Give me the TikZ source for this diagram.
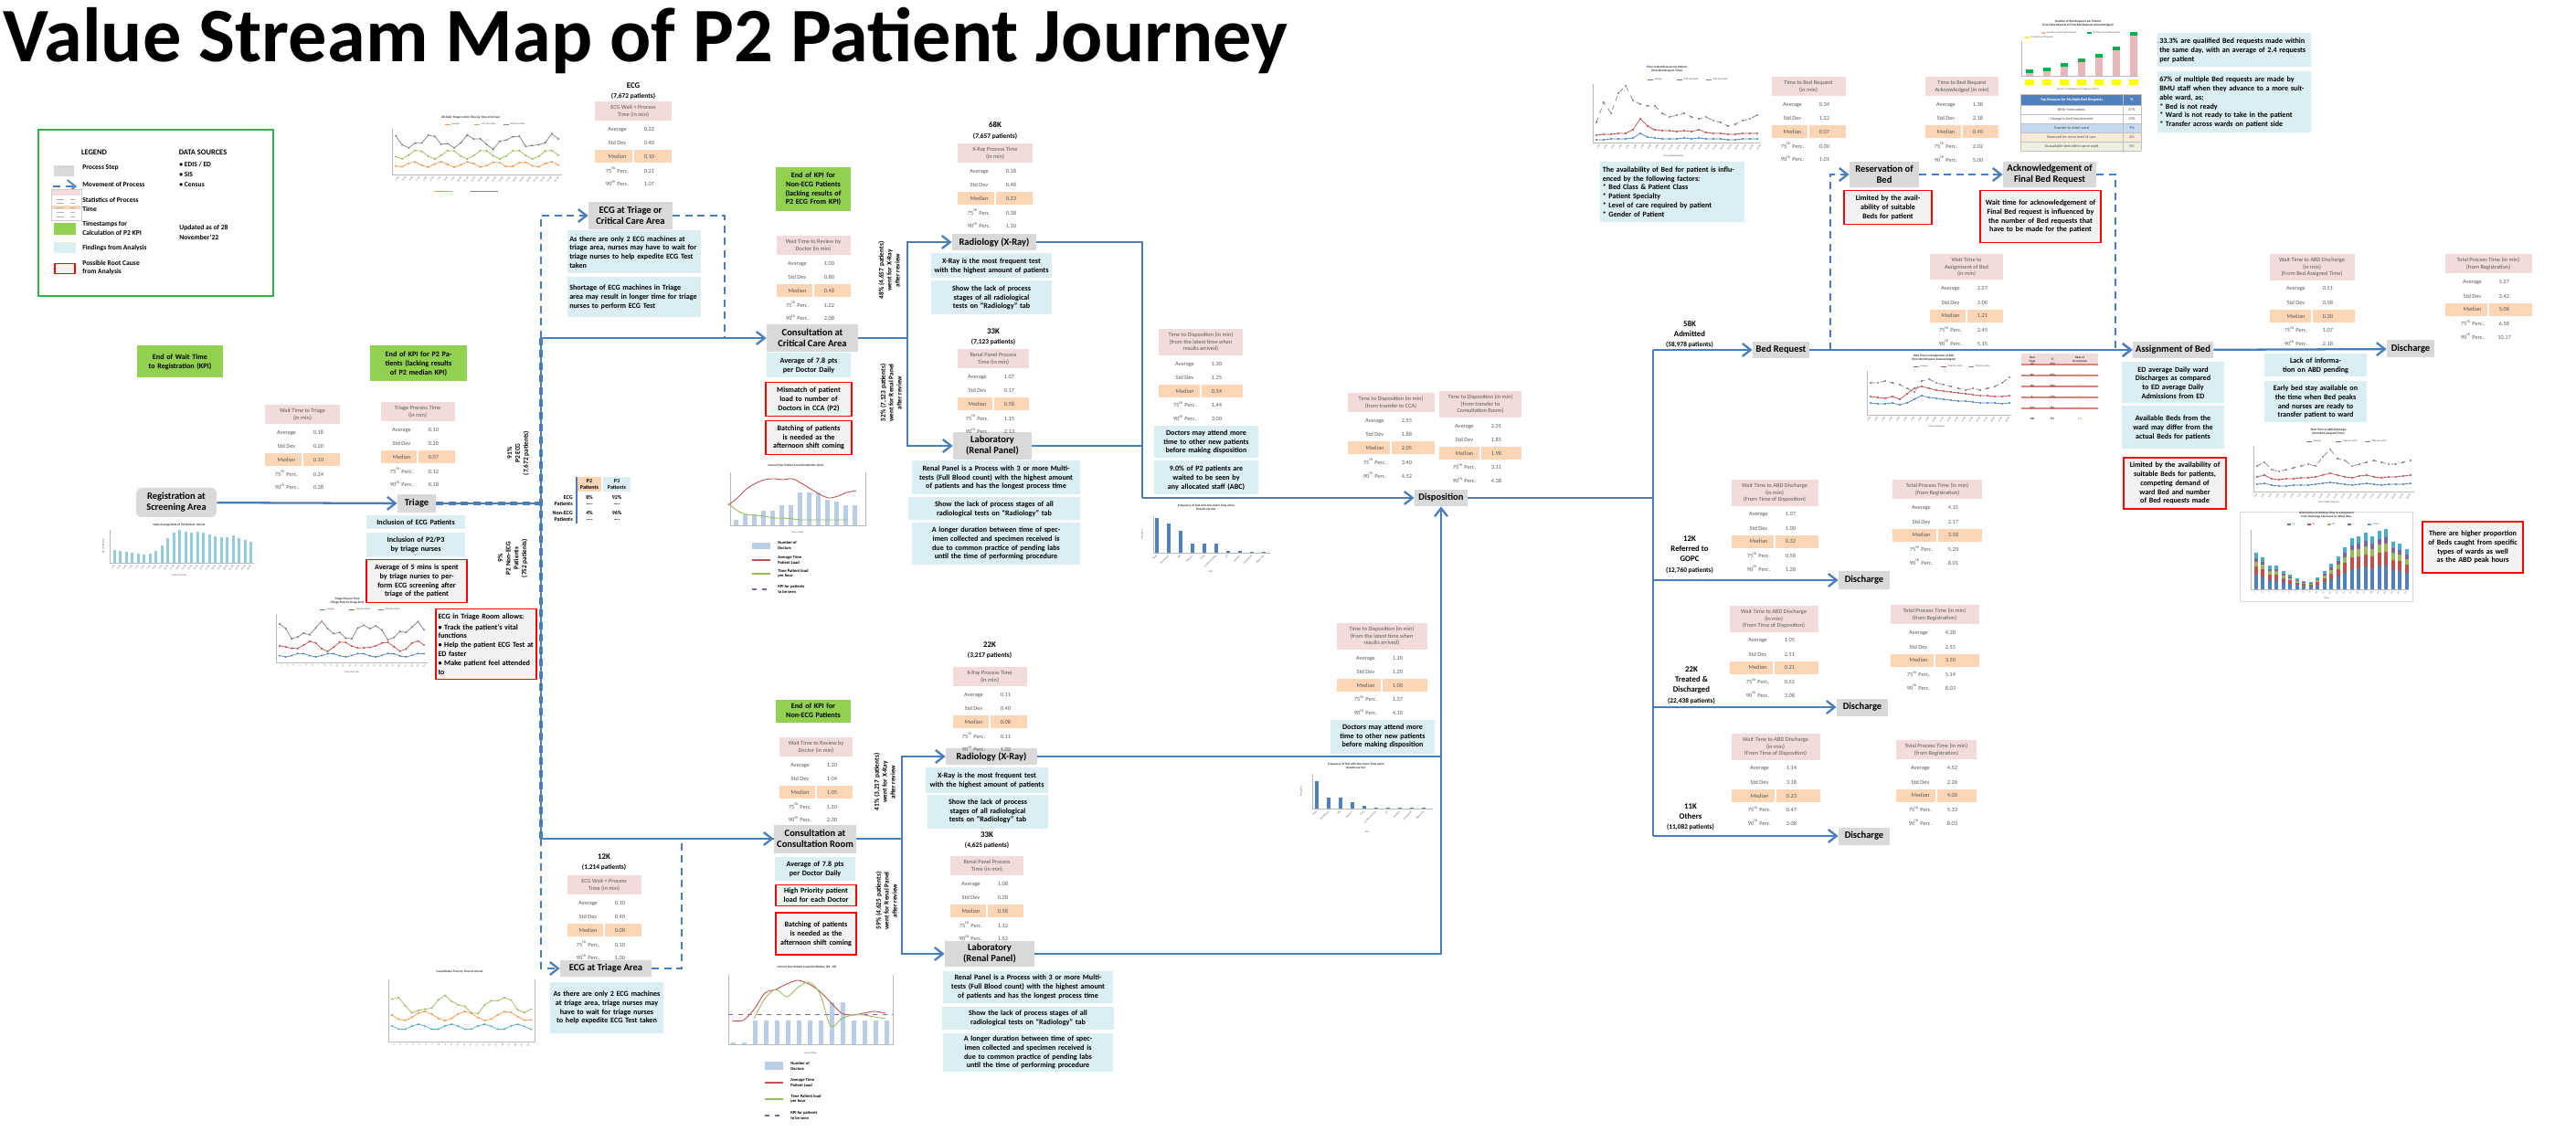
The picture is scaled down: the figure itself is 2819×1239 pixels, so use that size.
\documentclass[tikz,border=0pt]{standalone}
\usepackage{fontspec}
\setmainfont{Carlito}
\usetikzlibrary{positioning,arrows.meta}

\definecolor{flowblue}{HTML}{4A7EBB}
\definecolor{procgrey}{HTML}{D9D9D9}
\definecolor{findblue}{HTML}{DBEEF4}
\definecolor{kpigreen}{HTML}{92D050}
\definecolor{medorange}{HTML}{FCD5B4}
\definecolor{headpink}{HTML}{F2DCDB}
\definecolor{causegrey}{HTML}{F2F2F2}
\definecolor{legendgreen}{HTML}{2DB34A}
\definecolor{tabtext}{HTML}{595959}
\definecolor{barblue}{HTML}{4F81BD}
\definecolor{skyblue}{HTML}{93CDDD}
\definecolor{paleblue}{HTML}{B9CDE5}
\definecolor{chartred}{HTML}{C0504D}
\definecolor{chartgreen}{HTML}{9BBB59}
\definecolor{chartpurple}{HTML}{8064A2}
\definecolor{chartaqua}{HTML}{4BACC6}
\definecolor{chartorange}{HTML}{F79646}
\definecolor{barpink}{HTML}{E6B9B8}
\definecolor{tagyellow}{HTML}{FFFF00}
\definecolor{capgreen}{HTML}{00B050}
\definecolor{rowblue}{HTML}{C5D9F1}
\definecolor{rowpeach}{HTML}{FDE9D9}
\definecolor{rowgreen}{HTML}{EBF1DE}

\newcommand{\fsz}[2]{\fontsize{#1}{#2}\selectfont}
\newcommand{\rowtxt}[2]{\makebox[7mm]{#1}\makebox[7mm]{#2}}
% statistics table: name, top centre, width, title, average, std dev, median, 75th, 90th
\newcommand{\stattab}[9]{%
  \node[tabhead, minimum width=#3, anchor=north] (#1) at #2 {#4};
  \node[tabrow, minimum width=#3, below=1.2pt of #1] (#1-a) {\rowtxt{Average}{#5}};
  \node[tabrow, minimum width=#3, below=0pt of #1-a] (#1-b) {\rowtxt{Std Dev}{#6}};
  \node[tabrow, minimum width=#3, fill=medorange, below=0pt of #1-b] (#1-c) {\rowtxt{Median}{#7}};
  \node[tabrow, minimum width=#3, below=0pt of #1-c] (#1-d) {\rowtxt{75\textsuperscript{th} Perc.}{#8}};
  \node[tabrow, minimum width=#3, below=0pt of #1-d] (#1-e) {\rowtxt{90\textsuperscript{th} Perc.}{#9}};
  \draw[white, line width=0.8pt] (#1-c.north) -- (#1-c.south);
}

\begin{document}
\begin{tikzpicture}[x=0.2mm, y=-0.2mm,
  proc/.style={fill=procgrey, font=\bfseries\fsz{6}{6.8}, align=center, inner sep=1pt},
  find/.style={fill=findblue, font=\bfseries\fsz{4.6}{5.6}, align=center, inner sep=1.5pt},
  cause/.style={draw=red, line width=1.1pt, fill=causegrey, font=\bfseries\fsz{4.6}{5.6}, align=center, inner sep=1.5pt},
  kpi/.style={fill=kpigreen, font=\bfseries\fsz{4.6}{5.6}, align=center, inner sep=1.5pt},
  tabhead/.style={fill=headpink, text=tabtext, font=\fsz{3.6}{4.3}, align=center, inner xsep=1pt, inner ysep=2.2pt},
  tabrow/.style={text=tabtext, font=\fsz{3.6}{4.3}, inner sep=0pt, minimum height=2.8mm},
  grp/.style={font=\bfseries\fsz{5}{6.4}, align=center, inner sep=0pt},
  rot/.style={rotate=90, font=\bfseries\fsz{4.2}{5}, align=center, inner sep=0pt},
  flow/.style={draw=flowblue, line width=1.3pt},
  dflow/.style={flow, dash pattern=on 1.6mm off 1.1mm},
  arr/.style={-{Straight Barb[length=1.8mm, width=2.8mm]}},
  legtxt/.style={font=\bfseries\fsz{4.3}{5.4}, align=left, anchor=west, inner sep=0pt},
  axisln/.style={draw=gray!55, line width=0.3pt},
  ctitle/.style={font=\bfseries\fsz{1.9}{2.3}, align=center, inner sep=0pt, text=black!80},
  ticklbl/.style={font=\fsz{1.5}{1.8}, inner sep=0pt, text=black!70},
  clegend/.style={font=\bfseries\fsz{2.6}{3.1}, align=left, anchor=west, inner sep=0pt},
  minicell/.style={font=\bfseries\fsz{3.4}{4}, align=center, inner sep=0pt}]
\useasboundingbox (0,0) rectangle (2819,1239);

% title
\node[anchor=base west, font=\bfseries\fsz{48}{52}, inner sep=0pt] (title) at (3,68) {Value Stream Map of P2 Patient Journey};

% legend
\draw[legendgreen, line width=0.5mm] (42,142) rectangle (299,324);
\node[grp, font=\bfseries\fsz{4.8}{5.6}] (legHead) at (103,167) {LEGEND};
\node[proc, minimum width=4.4mm, minimum height=2.4mm] (legProc) at (70,187) {};
\node[legtxt] (legProcT) at (90,184) {Process Step};
\coordinate (legA) at (58,204);
\coordinate (legB) at (84,204);
\draw[dflow, arr, line width=1pt] (legA) -- (legB);
\node[legtxt] (legMoveT) at (90,202) {Movement of Process};
\draw[gray!40, fill=white] (56,207) rectangle (89,241);
\fill[headpink] (57,208) rectangle (88,214);
\fill[medorange] (57,225) rectangle (88,229);
\foreach \yy in {218,222,227,232,237} \draw[gray!60, line width=0.2pt] (62,\yy) -- (70,\yy) (77,\yy) -- (82,\yy);
\node[legtxt] (legStatT) at (90,224) {Statistics of Process\\Time};
\node[kpi, minimum width=4.8mm, minimum height=2.6mm] (legKpi) at (71,251) {};
\node[legtxt] (legKpiT) at (90,250) {Timestamps for\\Calculation of P2 KPI};
\node[find, minimum width=4.8mm, minimum height=2.4mm] (legFind) at (71,271) {};
\node[legtxt] (legFindT) at (90,271) {Findings from Analysis};
\node[cause, line width=0.7pt, minimum width=4.4mm, minimum height=2.2mm] (legCause) at (71,294) {};
\node[legtxt] (legCauseT) at (90,293) {Possible Root Cause\\from Analysis};
\node[grp, font=\bfseries\fsz{4.8}{5.6}] (legSrc) at (222,167) {DATA SOURCES};
\node[legtxt, font=\bfseries\fsz{4.3}{6.2}] (legSrcT) at (196,191) {• EDIS / ED\\• SIS\\• Census};
\node[legtxt, font=\bfseries\fsz{4.3}{6.2}] (legUpd) at (196,254) {Updated as of 28\\November'22};

% KPI timestamps
\node[kpi, text width=17.9mm, minimum height=7mm] (kReg) at (197,396) {End of Wait Time to Registration (KPI)};
\node[kpi, text width=20.3mm, minimum height=7.8mm] (kTri) at (458,398) {End of KPI for P2 Patients (lacking results of P2 median KPI)};
\node[kpi, text width=15.3mm, minimum height=9.6mm] (kCca) at (890,207) {End of KPI for Non-ECG Patients (lacking results of P2 ECG From KPI)};
\node[kpi, text width=15.5mm, minimum height=5mm] (kCr) at (890,778) {End of KPI for Non-ECG Patients};

% process steps
\node[proc, rounded corners=1.2mm, minimum width=17.6mm, minimum height=6.4mm] (reg) at (193,550) {Registration at\\Screening Area};
\node[proc, minimum width=8.4mm, minimum height=4mm] (tri) at (456,551) {Triage};
\node[proc, minimum width=18.4mm, minimum height=6mm] (ecgA) at (690,236) {ECG at Triage or\\Critical Care Area};
\node[proc, minimum width=20mm, minimum height=6mm] (ccA) at (889,370) {Consultation at\\Critical Care Area};
\node[proc, minimum width=18.4mm, minimum height=3.6mm] (radA) at (1088,265) {Radiology (X-Ray)};
\node[proc, minimum width=17.2mm, minimum height=6mm] (labA) at (1086,488) {Laboratory\\(Renal Panel)};
\node[proc, minimum width=18mm, minimum height=6.2mm] (crB) at (892,918) {Consultation at\\Consultation Room};
\node[proc, minimum width=20mm, minimum height=3.6mm] (ecgB) at (663,1060) {ECG at Triage Area};
\node[proc, minimum width=20mm, minimum height=3.6mm] (radB) at (1085,828) {Radiology (X-Ray)};
\node[proc, minimum width=19.6mm, minimum height=5.6mm] (labB) at (1083,1044) {Laboratory\\(Renal Panel)};
\node[proc, minimum width=11.6mm, minimum height=3.6mm] (disp) at (1577,545) {Disposition};
\node[proc, minimum width=12.4mm, minimum height=3.6mm] (bedreq) at (1949,383) {Bed Request};
\node[proc, minimum width=15.2mm, minimum height=5.6mm] (resv) at (2062,191) {Reservation of\\Bed};
\node[proc, minimum width=20.4mm, minimum height=5.6mm] (ack) at (2243,191) {Acknowledgement of\\Final Bed Request};
\node[proc, minimum width=17.6mm, minimum height=3.6mm] (asgn) at (2378,383) {Assignment of Bed};
\node[proc, minimum width=10.4mm, minimum height=3.8mm] (dis1) at (2638,382) {Discharge};
\node[proc, minimum width=11.2mm, minimum height=3.8mm] (dis2) at (2040,635) {Discharge};
\node[proc, minimum width=11.2mm, minimum height=3.8mm] (dis3) at (2038,774) {Discharge};
\node[proc, minimum width=11.2mm, minimum height=3.8mm] (dis4) at (2040,915) {Discharge};

% connectors, left part
\coordinate (vTop) at (592,236);
\coordinate (vUp) at (592,370);
\coordinate (vTri) at (592,551);
\coordinate (vLow) at (592,918);
\coordinate (vBot) at (592,1060);
\draw[flow, arr] (reg) -- (tri);
\draw[flow] (tri) -- (vTri);
\draw[dflow, line width=2.2pt] (tri) -- (vTri);
\draw[flow] (vUp) -- (vLow);
\draw[dflow, line width=2.2pt] (vUp) -- (vLow);
\draw[flow, arr] (vUp) -- (ccA);
\draw[flow, arr] (vLow) -- (crB);
\draw[dflow, arr] (vUp) -- (vTop) -- (ecgA);
\coordinate (ecgAr) at (793,236);
\coordinate (ecgAd) at (793,370);
\draw[dflow] (ecgA) -- (ecgAr) -- (ecgAd);
\draw[dflow, arr] (vLow) -- (vBot) -- (ecgB);
\coordinate (ecgBr) at (746,1060);
\coordinate (ecgBu) at (746,918);
\draw[dflow] (ecgB) -- (ecgBr) -- (ecgBu) -- (crB);

% connectors, investigations
\coordinate (sA) at (993,370);
\coordinate (sAt) at (993,265);
\coordinate (sAb) at (993,488);
\draw[flow] (ccA) -- (sA);
\draw[flow, arr] (sA) -- (sAt) -- (radA);
\draw[flow, arr] (sA) -- (sAb) -- (labA);
\coordinate (jA) at (1250,265);
\coordinate (jAl) at (1250,488);
\coordinate (jAb) at (1250,545);
\draw[flow] (radA) -- (jA) -- (jAb);
\draw[flow] (labA) -- (jAl);
\draw[flow, arr] (jAb) -- (disp);
\coordinate (sB) at (987,918);
\coordinate (sBt) at (987,828);
\coordinate (sBb) at (987,1044);
\draw[flow] (crB) -- (sB);
\draw[flow, arr] (sB) -- (sBt) -- (radB);
\draw[flow, arr] (sB) -- (sBb) -- (labB);
\coordinate (jB) at (1577,828);
\coordinate (jBb) at (1577,1044);
\draw[flow] (radB) -- (jB);
\draw[flow, arr] (labB) -- (jBb) -- (disp);

% connectors, disposition onwards
\coordinate (rD) at (1809,545);
\coordinate (rT) at (1809,383);
\coordinate (r2) at (1809,635);
\coordinate (r3) at (1809,774);
\coordinate (r4) at (1809,915);
\draw[flow] (disp) -- (rD);
\draw[flow] (rT) -- (r4);
\draw[flow, arr] (rT) -- (bedreq);
\draw[flow, arr] (r2) -- (dis2);
\draw[flow, arr] (r3) -- (dis3);
\draw[flow, arr] (r4) -- (dis4);
\draw[flow, arr] (bedreq) -- (asgn);
\draw[flow, arr] (asgn) -- (dis1);
\coordinate (bU) at (2003,383);
\coordinate (bT) at (2003,191);
\coordinate (aR) at (2315,191);
\coordinate (aD) at (2315,383);
\draw[dflow, arr] (bU) -- (bT) -- (resv);
\draw[dflow, arr] (resv) -- (ack);
\draw[dflow, arr] (ack) -- (aR) -- (aD) -- (asgn);

% branch labels
\node[rot] (lblEcg) at (567,496) {91\%\\P2 ECG\\(7,672 patients)};
\node[rot] (lblNon) at (561,611) {9\%\\P2 Non-ECG\\Patients\\(752 patients)};
\node[rot] (lblRadA) at (973,296) {48\% (4,657 patients)\\went for X-Ray\\after review};
\node[rot] (lblLabA) at (975,430) {52\% (7,123 patients)\\went for Renal Panel\\after review};
\node[rot] (lblRadB) at (968,856) {41\% (3,217 patients)\\went for X-Ray\\after review};
\node[rot] (lblLabB) at (970,986) {59\% (4,625 patients)\\went for Renal Panel\\after review};
\node[grp] (lblAdm) at (1849,366) {58K\\Admitted\\\fsz{4.2}{6}(58,978 patients)};
\node[grp] (lblGopc) at (1849,607) {12K\\Referred to\\GOPC\\\fsz{4.2}{6}(12,760 patients)};
\node[grp] (lblTd) at (1851,750) {22K\\Treated \&\\Discharged\\\fsz{4.2}{6}(22,438 patients)};
\node[grp] (lblOth) at (1850,894) {11K\\Others\\\fsz{4.2}{6}(11,082 patients)};
\node[grp] (grpEcgA) at (693,100) {ECG\\\fsz{4.2}{6}(7,672 patients)};
\node[grp] (grpRadA) at (1089,143) {68K\\\fsz{4.2}{6}(7,657 patients)};
\node[grp] (grpLabA) at (1087,369) {33K\\\fsz{4.2}{6}(7,123 patients)};
\node[grp] (grpEcgB) at (661,944) {12K\\\fsz{4.2}{6}(1,214 patients)};
\node[grp] (grpRadB) at (1083,712) {22K\\\fsz{4.2}{6}(3,217 patients)};
\node[grp] (grpLabB) at (1080,920) {33K\\\fsz{4.2}{6}(4,625 patients)};

% ECG share table
\node[minicell, fill=medorange, minimum width=5.2mm, minimum height=3.2mm] (hP2) at (645,530) {P2\\Patients};
\node[minicell, fill=findblue, minimum width=6mm, minimum height=3.2mm] (hP3) at (675,530) {P3\\Patients};
\node[minicell, align=right, anchor=east] (rEcgP) at (627,548) {ECG\\Patients};
\node[minicell, align=right, anchor=east] (rNonP) at (627,565) {Non-ECG\\Patients};
\node[minicell] (v11) at (645,544) {8\%};
\node[minicell] (v12) at (675,544) {92\%};
\node[minicell] (v21) at (645,561) {4\%};
\node[minicell] (v22) at (675,561) {96\%};
\node[minicell] (d11) at (645,552) {----};
\node[minicell] (d12) at (675,552) {----};
\node[minicell] (d21) at (645,569) {----};
\node[minicell] (d22) at (675,569) {----};
\draw[flowblue, line width=0.6pt] (631,522) -- (631,573);

% statistics tables
\stattab{tWaitTri}{(331,443)}{16.4mm}{Wait Time to Triage\\(in min)}{0.18}{0.20}{0.10}{0.24}{0.38}
\stattab{tTriProc}{(457,440)}{16.2mm}{Triage Process Time\\(in min)}{0.10}{0.20}{0.07}{0.12}{0.18}
\stattab{tEcgA}{(693,111)}{16.8mm}{ECG Wait + Process\\Time (in min)}{0.22}{0.40}{0.10}{0.21}{1.07}
\stattab{tRevA}{(890,258)}{16.2mm}{Wait Time to Review by\\Doctor (in min)}{1.00}{0.80}{0.48}{1.22}{2.08}
\stattab{tRadA}{(1089,157)}{16.4mm}{X-Ray Process Time\\(in min)}{0.18}{0.48}{0.23}{0.38}{1.10}
\stattab{tLabA}{(1087,382)}{15.6mm}{Renal Panel Process\\Time (in min)}{1.07}{0.17}{0.58}{1.15}{2.13}
\stattab{tDispA}{(1314,360)}{18.4mm}{Time to Disposition (in min)\\(from the latest time when\\results arrived)}{1.30}{1.25}{0.54}{1.44}{3.00}
\stattab{tDispB1}{(1522,430)}{19mm}{Time to Disposition (in min)\\(from transfer to CCA)}{2.55}{1.88}{2.05}{3.40}{4.52}
\stattab{tDispB2}{(1620,428)}{18mm}{Time to Disposition (in min)\\(from transfer to\\Consultation Room)}{2.31}{1.85}{1.98}{3.11}{4.38}
\stattab{tRevB}{(893,807)}{16mm}{Wait Time to Review by\\Doctor (in min)}{1.20}{1.04}{1.05}{1.50}{2.30}
\stattab{tEcgB}{(661,958)}{16.2mm}{ECG Wait + Process\\Time (in min)}{0.10}{0.40}{0.08}{0.10}{1.00}
\stattab{tRadB}{(1083,730)}{16.2mm}{X-Ray Process Time\\(in min)}{0.11}{0.40}{0.08}{0.11}{1.02}
\stattab{tLabB}{(1080,937)}{16mm}{Renal Panel Process\\Time (in min)}{1.08}{0.28}{0.58}{1.12}{1.52}
\stattab{tDispC}{(1512,682)}{19.8mm}{Time to Disposition (in min)\\(from the latest time when\\results arrived)}{1.20}{1.20}{1.00}{1.37}{4.10}
\stattab{tBedReq}{(1979,84)}{16.2mm}{Time to Bed Request\\(in min)}{0.34}{1.22}{0.07}{0.00}{1.01}
\stattab{tBedAck}{(2147,84)}{16mm}{Time to Bed Request\\Acknowledged (in min)}{1.38}{2.18}{0.40}{2.02}{5.00}
\stattab{tAsgn}{(2152,278)}{16mm}{Wait Time to\\Assignment of Bed\\(in min)}{2.27}{3.00}{1.21}{2.45}{5.15}
\stattab{tAbd1}{(2530,278)}{18.6mm}{Wait Time to ABD Discharge\\(in min)\\(From Bed Assigned Time)}{0.51}{0.58}{0.30}{1.07}{2.18}
\stattab{tTot1}{(2723,278)}{19mm}{Total Process Time (in min)\\(from Registration)}{5.27}{2.42}{5.08}{6.58}{10.17}
\stattab{tAbd2}{(1942,525)}{19mm}{Wait Time to ABD Discharge\\(in min)\\(From Time of Disposition)}{1.07}{1.00}{0.32}{0.58}{1.28}
\stattab{tTot2}{(2120,525)}{19.6mm}{Total Process Time (in min)\\(from Registration)}{4.15}{2.17}{3.58}{5.20}{8.01}
\stattab{tAbd3}{(1941,663)}{19.4mm}{Wait Time to ABD Discharge\\(in min)\\(From Time of Disposition)}{1.05}{2.51}{0.21}{0.52}{3.08}
\stattab{tTot3}{(2117,662)}{19.4mm}{Total Process Time (in min)\\(from Registration)}{4.28}{2.55}{3.50}{5.14}{8.03}
\stattab{tAbd4}{(1943,803)}{19.4mm}{Wait Time to ABD Discharge\\(in min)\\(From Time of Disposition)}{1.14}{3.18}{0.23}{0.47}{3.08}
\stattab{tTot4}{(2119,810)}{17.6mm}{Total Process Time (in min)\\(from Registration)}{4.52}{2.26}{4.00}{5.33}{8.03}

% findings and root causes, triage
\node[find, text width=20.7mm, minimum height=3mm] (fEcgPt) at (455,572) {Inclusion of ECG Patients};
\node[find, text width=20.7mm, minimum height=5mm] (fP2P3) at (455,596) {Inclusion of P2/P3 by triage nurses};
\node[cause, text width=20.9mm, minimum height=9.4mm] (cEcgTri) at (456,636) {Average of 5 mins is spent by triage nurses to perform ECG screening after triage of the patient};
\node[cause, text width=21mm, minimum height=15.4mm, align=left] (cEcgRoom) at (532,705) {ECG in Triage Room allows:\\[1pt]
 \textbullet\ Track the patient's vital functions\\
 \textbullet\ Help the patient ECG Test at ED faster\\
 \textbullet\ Make patient feel attended to};
\node[find, text width=28.3mm, minimum height=9.4mm, align=left] (fEcgA1) at (694,276) {As there are only 2 ECG machines at triage area, nurses may have to wait for triage nurses to help expedite ECG Test taken};
\node[find, text width=28.3mm, minimum height=8.8mm, align=left] (fEcgA2) at (694,325) {Shortage of ECG machines in Triage area may result in longer time for triage nurses to perform ECG Test};

% findings and root causes, consultation
\node[find, text width=17.3mm, minimum height=5.4mm] (fCca) at (885,400) {Average of 7.8 pts per Doctor Daily};
\node[cause, text width=17.7mm, minimum height=7.4mm] (cCca1) at (885,437) {Mismatch of patient load to number of Doctors in CCA (P2)};
\node[cause, text width=17.7mm, minimum height=7.4mm] (cCca2) at (885,479) {Batching of patients is needed as the afternoon shift coming};
\node[find, text width=16.5mm, minimum height=5.2mm] (fCr) at (892,951) {Average of 7.8 pts per Doctor Daily};
\node[cause, text width=16.5mm, minimum height=4.6mm] (cCr1) at (893,980) {High Priority patient load for each Doctor};
\node[cause, text width=16.5mm, minimum height=9.2mm] (cCr2) at (893,1022) {Batching of patients is needed as the afternoon shift coming};
\node[find, text width=23.7mm, minimum height=11.2mm] (fEcgB) at (664,1103) {As there are only 2 ECG machines at triage area, triage nurses may have to wait for triage nurses to help expedite ECG Test taken};

% findings, investigations
\node[find, text width=25.5mm, minimum height=5.4mm] (fRadA1) at (1085,291) {X-Ray is the most frequent test with the highest amount of patients};
\node[find, text width=25.5mm, minimum height=7.4mm] (fRadA2) at (1085,326) {Show the lack of process stages of all radiological tests on “Radiology” tab};
\node[find, text width=35.7mm, minimum height=7.4mm] (fLabA1) at (1090,523) {Renal Panel is a Process with 3 or more Multi-tests (Full Blood count) with the highest amount of patients and has the longest process time};
\node[find, text width=36.5mm, minimum height=5mm] (fLabA2) at (1088,557) {Show the lack of process stages of all radiological tests on “Radiology” tab};
\node[find, text width=35.7mm, minimum height=9mm] (fLabA3) at (1090,595) {A longer duration between time of specimen collected and specimen received is due to common practice of pending labs until the time of performing procedure};
\node[find, text width=21.7mm, minimum height=7mm] (fDispA1) at (1320,484) {Doctors may attend more time to other new patients before making disposition};
\node[find, text width=21.7mm, minimum height=7.4mm] (fDispA2) at (1320,523) {9.0\% of P2 patients are waited to be seen by any allocated staff (ABC)};
\node[find, text width=25.7mm, minimum height=5.6mm] (fRadB1) at (1080,854) {X-Ray is the most frequent test with the highest amount of patients};
\node[find, text width=25.3mm, minimum height=7.4mm] (fRadB2) at (1081,888) {Show the lack of process stages of all radiological tests on “Radiology” tab};
\node[find, text width=36.3mm, minimum height=7mm] (fLabB1) at (1125,1080) {Renal Panel is a Process with 3 or more Multi-tests (Full Blood count) with the highest amount of patients and has the longest process time};
\node[find, text width=36.7mm, minimum height=5mm] (fLabB2) at (1125,1114) {Show the lack of process stages of all radiological tests on “Radiology” tab};
\node[find, text width=36.3mm, minimum height=8mm] (fLabB3) at (1125,1152) {A longer duration between time of specimen collected and specimen received is due to common practice of pending labs until the time of performing procedure};
\node[find, text width=21.7mm, minimum height=7.4mm] (fDispB) at (1513,806) {Doctors may attend more time to other new patients before making disposition};

% findings and root causes, bed management
\node[find, text width=30.5mm, minimum height=13.2mm, align=left] (fBed) at (1830,210) {The availability of Bed for patient is influenced by the following factors:\\
 {*} Bed Class \& Patient Class\\ {*} Patient Specialty\\ {*} Level of care required by patient\\ {*} Gender of Patient};
\node[cause, text width=18mm, minimum height=7.4mm] (cResv) at (2066,227) {Limited by the availability of suitable Beds for patient};
\node[cause, text width=25.2mm, minimum height=11.4mm] (cAck) at (2233,237) {Wait time for acknowledgement of Final Bed request is influenced by the number of Bed requests that have to be made for the patient};
\node[find, text width=32.7mm, minimum height=7.4mm, align=left] (fMulti1) at (2445,55) {33.3\% are qualified Bed requests made within the same day, with an average of 2.4 requests per patient};
\node[find, text width=32.7mm, minimum height=13.4mm, align=left] (fMulti2) at (2445,112) {67\% of multiple Bed requests are made by BMU staff when they advance to a more suitable ward, as:\\
 {*} Bed is not ready\\ {*} Ward is not ready to take in the patient\\ {*} Transfer across wards on patient side};
\node[find, text width=21.5mm, minimum height=9mm] (fAsgn1) at (2378,419) {ED average Daily ward Discharges as compared to ED average Daily Admissions from ED};
\node[find, text width=21.5mm, minimum height=9.4mm] (fAsgn2) at (2378,468) {Available Beds from the ward may differ from the actual Beds for patients};
\node[cause, text width=21.3mm, minimum height=11.2mm] (cAsgn) at (2380,529) {Limited by the availability of suitable Beds for patients, competing demand of ward Bed and number of Bed requests made};
\node[find, text width=21.3mm, minimum height=5mm] (fDis1) at (2534,400) {Lack of information on ABD pending};
\node[find, text width=21.3mm, minimum height=9mm] (fDis2) at (2534,440) {Early bed stay available on the time when Bed peaks and nurses are ready to transfer patient to ward};
\node[cause, text width=21.1mm, minimum height=11.2mm] (cBeds) at (2706,599) {There are higher proportion of Beds caught from specific types of wards as well as the ABD peak hours};

% chart: arrivals
\begin{scope}[shift={(108,572)}]
  \node[ctitle] (c1t) at (88,3) {Daily Average Rate of P2 Patients' Arrival};
  \draw[axisln] (12,8) -- (12,44) -- (170,44);
  \foreach \h [count=\i] in {14,13,12,11,10,9,10,13,19,27,33,36,34,33,34,33,31,29,28,28,30,27,25,23}
    \fill[skyblue] (9+\i*6.5,44) rectangle ++(3.2,-\h);
  \foreach \i in {1,...,24} \node[ticklbl, rotate=45, anchor=east] at (11+\i*6.5,47) {\i:00};
  \node[ticklbl, rotate=90] at (5,26) {No. of Patients};
  \node[ticklbl] at (88,58) {Time of Arrival};
\end{scope}

% chart: triage process time
\begin{scope}[shift={(288,653)}]
  \node[ctitle] (c2t) at (92,5) {Triage Process Time\\(Triage Start to Triage End)};
  \foreach \c/\lbl [count=\k] in {barblue/Average, chartred/75th Percentile, gray/90th Percentile} {
    \draw[\c, line width=0.4pt] (30+\k*32,14) -- ++(6,0);
    \node[ticklbl, anchor=west] at (37+\k*32,14) {\lbl};
  }
  \draw[axisln] (14,20) -- (14,72) -- (180,72);
  \draw[gray, line width=0.4pt, mark=*, mark size=0.35pt] plot[domain=18:176, samples=25] (\x, {38-7*sin(7*\x)-4*cos(17*\x)});
  \draw[chartred, line width=0.4pt, mark=*, mark size=0.35pt] plot[domain=18:176, samples=25] (\x, {54-4*sin(9*\x)-2*cos(13*\x)});
  \draw[barblue, line width=0.4pt, mark=*, mark size=0.35pt] plot[domain=18:176, samples=25] (\x, {64-2*sin(11*\x)});
  \foreach \i in {1,...,24} \node[ticklbl, rotate=45, anchor=east] at (14+\i*6.8,75) {\i};
  \node[ticklbl] at (97,83) {Time of Arrival};
\end{scope}

% chart: triage to ECG
\begin{scope}[shift={(415,125)}]
  \node[ctitle] (c3t) at (100,4) {ED Daily Triage to ECG Time by Time of Arrival};
  \foreach \c/\lbl [count=\k] in {chartorange/Average, chartgreen/75th Percentile, gray/90th Percentile} {
    \draw[\c, line width=0.4pt] (40+\k*32,11) -- ++(6,0);
    \node[ticklbl, anchor=west] at (47+\k*32,11) {\lbl};
  }
  \draw[axisln] (14,16) -- (14,66) -- (200,66);
  \draw[gray, line width=0.4pt, mark=*, mark size=0.35pt] plot[domain=18:196, samples=26] (\x, {30-6*sin(8*\x)-3*cos(19*\x)});
  \draw[chartgreen, line width=0.4pt, mark=*, mark size=0.35pt] plot[domain=18:196, samples=26] (\x, {44-5*sin(10*\x+30)});
  \draw[chartorange, line width=0.4pt, mark=*, mark size=0.35pt] plot[domain=18:196, samples=26] (\x, {55-3*sin(12*\x)});
  \foreach \i in {1,...,24} \node[ticklbl, rotate=45, anchor=east] at (14+\i*7.6,69) {\i:00};
  \draw[chartorange, line width=0.4pt] (60,84) -- ++(20,0);
  \draw[gray, line width=0.4pt] (100,84) -- ++(30,0);
\end{scope}

% chart: CCA patient load
\begin{scope}[shift={(785,507)}]
  \node[ctitle] (c4t) at (86,3) {Current Year Patient Load Distribution (CCA)};
  \draw[axisln] (14,10) -- (14,68) -- (162,68) -- (162,10);
  \foreach \h [count=\i] in {6,12,12,16,16,22,22,36,36,36,28,26,22,22}
    \fill[paleblue] (8+\i*10,68) rectangle ++(5,-\h);
  \draw[chartred, line width=0.5pt] plot[smooth] coordinates {(12,46) (22,38) (32,28) (42,22) (52,18) (62,17) (72,18) (82,17) (92,22) (102,28) (112,34) (122,38) (132,36) (142,32) (152,30)};
  \draw[chartgreen, line width=0.5pt] plot[smooth] coordinates {(12,44) (22,52) (32,56) (42,57) (52,58) (62,60) (72,60) (82,61) (92,62) (102,62) (112,62) (122,62) (132,62) (142,62)};
  \node[ticklbl] at (88,76) {Hour of Day};
  \fill[paleblue] (38,87) rectangle (58,94);
  \node[clegend] (c4l1) at (66,90) {Number of\\Doctors};
  \draw[chartred, line width=0.8pt] (38,106) -- (58,106);
  \node[clegend] (c4l2) at (66,106) {Average Time\\Patient Load};
  \draw[chartgreen, line width=0.8pt] (38,121) -- (58,121);
  \node[clegend] (c4l3) at (66,121) {Time Patient load\\per hour};
  \draw[chartpurple, line width=0.8pt, dashed] (38,138) -- (58,138);
  \node[clegend] (c4l4) at (66,138) {KPI for patients\\to be seen};
\end{scope}

% chart: consultation room patient load
\begin{scope}[shift={(777,1055)}]
  \node[ctitle] (c5t) at (106,4) {Current Year Patient Load Distribution (P2 - CR)};
  \draw[axisln] (20,12) -- (20,88) -- (200,88) -- (200,12);
  \foreach \h [count=\i] in {2,2,26,26,26,26,26,26,26,46,46,26,26,26,26}
    \fill[paleblue] (11+\i*12,88) rectangle ++(5,-\h);
  \draw[chartpurple, line width=0.4pt, dashed] (20,55) -- (200,55);
  \draw[chartred, line width=0.5pt] plot[smooth] coordinates {(24,62) (36,62) (48,50) (60,32) (72,28) (84,22) (96,18) (108,22) (120,30) (132,42) (144,54) (156,56) (168,54) (180,52) (192,54)};
  \draw[chartgreen, line width=0.5pt] plot[smooth] coordinates {(48,60) (60,38) (72,28) (84,36) (96,26) (108,20) (120,32) (132,68) (144,60) (156,56) (168,56) (180,58) (192,60)};
  \node[ticklbl] at (110,98) {Hour of Day};
  \fill[paleblue] (60,107) rectangle (80,116);
  \node[clegend] (c5l1) at (88,112) {Number of\\Doctors};
  \draw[chartred, line width=0.8pt] (60,130) -- (80,130);
  \node[clegend] (c5l2) at (88,130) {Average Time\\Patient Load};
  \draw[chartgreen, line width=0.8pt] (60,148) -- (80,148);
  \node[clegend] (c5l3) at (88,148) {Time Patient load\\per hour};
  \draw[chartpurple, line width=0.8pt, dashed] (60,166) -- (80,166);
  \node[clegend] (c5l4) at (88,166) {KPI for patients\\to be seen};
\end{scope}

% chart: consultation time
\begin{scope}[shift={(413,1060)}]
  \node[ctitle] (c13t) at (90,4) {Consultation Time by Time of Arrival};
  \draw[axisln] (12,12) -- (12,80) -- (172,80) -- (172,12);
  \draw[chartgreen, line width=0.4pt, mark=*, mark size=0.35pt] plot[domain=16:168, samples=22] (\x, {40-8*sin(6*\x)-3*cos(15*\x)});
  \draw[chartorange, line width=0.4pt, mark=*, mark size=0.35pt] plot[domain=16:168, samples=22] (\x, {52-5*sin(8*\x+40)});
  \draw[chartaqua, line width=0.4pt, mark=*, mark size=0.35pt] plot[domain=16:168, samples=22] (\x, {64-3*sin(10*\x)});
  \foreach \i in {1,...,22} \node[ticklbl, rotate=45, anchor=east] at (12+\i*7,83) {\i};
\end{scope}

% chart: latest test, CCA
\begin{scope}[shift={(1240,550)}]
  \node[ctitle] (c6t) at (80,5) {Frequency of Test with the Latest Time when\\Results are Out};
  \draw[axisln] (22,15) -- (22,55) -- (150,55);
  \foreach \h [count=\i] in {38,32,24,10,10,10,2,2,1,1}
    \fill[barblue] (11+\i*13,55) rectangle ++(4,-\h);
  \foreach \lbl [count=\i] in {X-Ray,Renal Panel,FBC,Troponin,Coag,Cardiac Enzymes,LFT,Amylase,Urine FEME,Blood Gas}
    \node[ticklbl, rotate=45, anchor=east] at (13+\i*13,58) {\lbl};
  \node[ticklbl, rotate=90] at (10,35) {Frequency};
  \node[ticklbl] at (85,76) {Test};
\end{scope}

% chart: latest test, consultation room
\begin{scope}[shift={(1396,833)}]
  \node[ctitle] (c7t) at (88,5) {Frequency of Test with the Latest Time when\\Results are Out};
  \draw[axisln] (40,14) -- (40,52) -- (172,52);
  \foreach \h [count=\i] in {30,12,12,7,3,1,1,1,1,1}
    \fill[barblue] (30+\i*13,52) rectangle ++(4,-\h);
  \foreach \lbl [count=\i] in {X-Ray,Renal Panel,FBC,Troponin,Coag,Cardiac Enzymes,LFT,Amylase,Urine FEME,Blood Gas}
    \node[ticklbl, rotate=45, anchor=east] at (32+\i*13,55) {\lbl};
  \node[ticklbl, rotate=90] at (28,33) {Frequency};
  \node[ticklbl] at (100,78) {Test};
\end{scope}

% chart: time to bed request
\begin{scope}[shift={(1721,72)}]
  \node[ctitle] (c8t) at (103,4) {Time to Bed Request for Patient\\(from Bed Request Time)};
  \foreach \c/\lbl [count=\k] in {barblue/Average, chartred/75th Percentile, gray/90th Percentile} {
    \draw[\c, line width=0.4pt] (50+\k*32,15) -- ++(6,0);
    \node[ticklbl, anchor=west] at (57+\k*32,15) {\lbl};
  }
  \draw[axisln] (22,20) -- (22,84) -- (205,84);
  \draw[gray, line width=0.4pt, dashed, mark=*, mark size=0.35pt] plot coordinates {(26,62) (34,40) (42,52) (50,30) (58,22) (66,38) (74,42) (82,44) (90,44) (98,52) (106,56) (114,54) (122,52) (130,56) (138,58) (146,56) (154,60) (162,62) (170,66) (178,64) (186,60) (194,58) (202,54)};
  \draw[chartred, line width=0.4pt, mark=*, mark size=0.35pt] plot coordinates {(26,76) (34,75) (42,75) (50,74) (58,74) (66,70) (74,58) (82,66) (90,70) (98,71) (106,71) (114,72) (122,71) (130,72) (138,70) (146,73) (154,74) (162,74) (170,75) (178,75) (186,74) (194,74) (202,74)};
  \draw[barblue, line width=0.4pt, mark=*, mark size=0.35pt] plot coordinates {(26,81) (34,81) (42,80) (50,80) (58,80) (66,79) (74,74) (82,78) (90,79) (98,80) (106,80) (114,80) (122,79) (130,80) (138,79) (146,80) (154,80) (162,80) (170,81) (178,81) (186,80) (194,80) (202,80)};
  \foreach \i in {1,...,23} \node[ticklbl, rotate=45, anchor=east] at (22+\i*8,87) {\i:00};
  \node[ticklbl] at (110,99) {Time of Bed Request};
\end{scope}

% chart: multiple bed requests
\begin{scope}[shift={(2204,23)}]
  \node[ctitle] (c9t) at (70,3) {Number of Bed Requests per Patient\\(from Bed Request to Final Bed Request Acknowledged)};
  \fill[barpink] (30,12) rectangle ++(5,2);
  \node[ticklbl, anchor=west] at (36,13) {Duration to Final Bed Request};
  \fill[capgreen] (80,12) rectangle ++(5,2);
  \node[ticklbl, anchor=west] at (86,13) {Duration to 1st Bed Request};
  \fill[tagyellow] (12,17) rectangle ++(5,2);
  \node[ticklbl, anchor=west] at (18,18) {Proportion of Requests};
  \draw[axisln] (8,22) -- (8,60) -- (136,60);
  \foreach \h [count=\i] in {3,5,10,15,20,28,44} {
    \fill[barpink] (-6+\i*19,60) rectangle ++(8,-\h);
    \fill[capgreen] (-6+\i*19,60-\h) rectangle ++(8,-3.5);
    \fill[tagyellow] (-7+\i*19,64) rectangle ++(10,6);
  }
  \node[ticklbl] at (70,75) {Number of Bed Requests Made per Patient};
\end{scope}
\begin{scope}[shift={(2211,103)}]
  \draw[gray!50, line width=0.3pt, fill=barblue] (0,0) rectangle (132,12);
  \fill[white] (0,12) rectangle (132,32);
  \fill[rowblue] (0,32) rectangle (132,42);
  \fill[rowpeach] (0,42) rectangle (132,52);
  \fill[rowgreen] (0,52) rectangle (132,62);
  \foreach \yy in {12,22,32,42,52,62} \draw[gray!50, line width=0.3pt] (0,\yy) -- (132,\yy);
  \draw[gray!50, line width=0.3pt] (0,0) -- (0,62) (112,0) -- (112,62) (132,0) -- (132,62);
  \node[ctitle, text=white, font=\bfseries\fsz{2.4}{2.8}] (c9h) at (56,6) {Top Reasons for Multiple Bed Requests};
  \node[ctitle, text=white, font=\bfseries\fsz{2.4}{2.8}] at (122,6) {\%};
  \foreach \lbl/\pc [count=\k] in {BMU Interactions/47\%, Change in bed requirement/33\%, Transfer to other ward/9\%, Reserved for more level of care/6\%, Unavailable bed within same ward/5\%} {
    \node[ticklbl, font=\fsz{2.4}{2.8}] at (56,7+\k*10) {\lbl};
    \node[ticklbl, font=\fsz{2.4}{2.8}] at (122,7+\k*10) {\pc};
  }
\end{scope}

% chart: wait to assignment of bed
\begin{scope}[shift={(2029,389)}]
  \node[ctitle] (c10t) at (87,3) {Wait Time to Assignment of Bed\\(from Bed Request Acknowledged)};
  \foreach \c/\lbl [count=\k] in {barblue/Average, chartred/75th Percentile, gray/90th Percentile} {
    \draw[\c, line width=0.4pt] (35+\k*30,12) -- ++(6,0);
    \node[ticklbl, anchor=west] at (42+\k*30,12) {\lbl};
  }
  \draw[axisln] (14,17) -- (14,65) -- (172,65);
  \draw[gray, line width=0.4pt, dashed, mark=*, mark size=0.35pt] plot coordinates {(18,30) (26,30) (34,28) (42,30) (50,32) (58,36) (66,40) (74,28) (82,26) (90,30) (98,32) (106,34) (114,36) (122,38) (130,36) (138,38) (146,36) (154,34) (162,30) (170,24)};
  \draw[chartred, line width=0.4pt, mark=*, mark size=0.35pt] plot coordinates {(18,45) (26,46) (34,47) (42,45) (50,48) (58,42) (66,36) (74,34) (82,36) (90,38) (98,39) (106,40) (114,41) (122,42) (130,43) (138,44) (146,44) (154,45) (162,45) (170,44)};
  \draw[barblue, line width=0.4pt, mark=*, mark size=0.35pt] plot coordinates {(18,52) (26,53) (34,53) (42,52) (50,54) (58,52) (66,48) (74,44) (82,46) (90,47) (98,48) (106,49) (114,50) (122,50) (130,51) (138,52) (146,52) (154,52) (162,53) (170,52)};
  \foreach \i in {1,...,20} \node[ticklbl, rotate=45, anchor=east] at (10+\i*8,68) {\i:00};
  \node[ticklbl] at (90,78) {Time of Request};
\end{scope}
\begin{scope}[shift={(2212,387)}]
  \fill[headpink] (0,0) rectangle (84,12);
  \node[ctitle] (c10h) at (12,6) {Bed\\Class};
  \node[ctitle] at (34,6) {\%};
  \node[ctitle] at (64,6) {Rate of\\Occurrence};
  \foreach \yy in {12,24,36,48,60} \draw[chartred!70, line width=0.7pt] (0,\yy) -- (84,\yy);
  \foreach \cl/\pc/\rt [count=\k] in {A1/33\%/1.8, B1/24\%/1.6, B2/18\%/1.5, C/12\%/1.4, ICU/8\%/1.3, HD/5\%/1.2} {
    \node[ctitle] at (12,12*\k-1) {\cl};
    \node[ctitle] at (34,12*\k-1) {\pc};
    \node[ctitle, text=chartorange] at (64,12*\k-1) {\rt};
  }
\end{scope}

% chart: wait to ABD discharge
\begin{scope}[shift={(2452,470)}]
  \node[ctitle] (c11t) at (96,3) {Wait Time to ABD Discharge\\(from Bed Assigned Time)};
  \foreach \c/\lbl [count=\k] in {barblue/Average, chartred/75th Percentile, gray/90th Percentile} {
    \draw[\c, line width=0.4pt] (40+\k*32,13) -- ++(6,0);
    \node[ticklbl, anchor=west] at (47+\k*32,13) {\lbl};
  }
  \draw[axisln] (14,18) -- (14,68) -- (190,68);
  \draw[gray, line width=0.4pt, dashed, mark=*, mark size=0.35pt] plot coordinates {(18,40) (26,36) (34,44) (42,46) (50,44) (58,42) (66,40) (74,38) (82,40) (90,30) (98,22) (106,32) (114,34) (122,40) (130,38) (138,36) (146,34) (154,36) (162,38) (170,38) (178,36) (186,34)};
  \draw[chartred, line width=0.4pt, mark=*, mark size=0.35pt] plot coordinates {(18,52) (26,50) (34,54) (42,55) (50,54) (58,54) (66,53) (74,53) (82,52) (90,50) (98,48) (106,50) (114,52) (122,53) (130,51) (138,50) (146,52) (154,53) (162,52) (170,52) (178,51) (186,50)};
  \draw[barblue, line width=0.4pt, mark=*, mark size=0.35pt] plot coordinates {(18,60) (26,59) (34,61) (42,62) (50,62) (58,61) (66,61) (74,61) (82,60) (90,59) (98,58) (106,59) (114,60) (122,61) (130,60) (138,59) (146,60) (154,61) (162,60) (170,60) (178,60) (186,59)};
  \foreach \i in {1,...,22} \node[ticklbl, rotate=45, anchor=east] at (10+\i*8,71) {\i:00};
  \node[ticklbl] at (96,80) {Time of Bed Assigned};
\end{scope}

% chart: ward discharges by hour
\begin{scope}[shift={(2451,560)}]
  \draw[gray!30, line width=0.3pt] (0,0) rectangle (189,98);
  \node[ctitle] (c12t) at (95,4) {Distribution of Waiting Time to Assignment\\from Discharge Clearance by Ward Hour};
  \foreach \c/\lbl [count=\k] in {barblue/A1, chartred/B1, chartgreen/B2, chartpurple/C, chartaqua/Others} {
    \fill[\c] (30+\k*22,13) rectangle ++(4,2);
    \node[ticklbl, anchor=west] at (35+\k*22,14) {\lbl};
  }
  \draw[axisln] (12,20) -- (12,85) -- (185,85);
  \foreach \h [count=\i] in {40,35,26,26,20,16,12,9,8,13,20,28,36,46,56,58,62,58,64,66,52,50,44} {
    \fill[barblue] (8+\i*7.5,85) rectangle ++(4,-0.4*\h);
    \fill[chartred] (8+\i*7.5,85-0.4*\h) rectangle ++(4,-0.22*\h);
    \fill[chartgreen] (8+\i*7.5,85-0.62*\h) rectangle ++(4,-0.14*\h);
    \fill[chartpurple] (8+\i*7.5,85-0.76*\h) rectangle ++(4,-0.1*\h);
    \fill[chartaqua] (8+\i*7.5,85-0.86*\h) rectangle ++(4,-0.14*\h);
  }
  \foreach \i in {1,...,23} \node[ticklbl, rotate=45, anchor=east] at (10+\i*7.5,88) {\i};
  \node[ticklbl] at (95,95) {Hour};
\end{scope}

\end{tikzpicture}
\end{document}
